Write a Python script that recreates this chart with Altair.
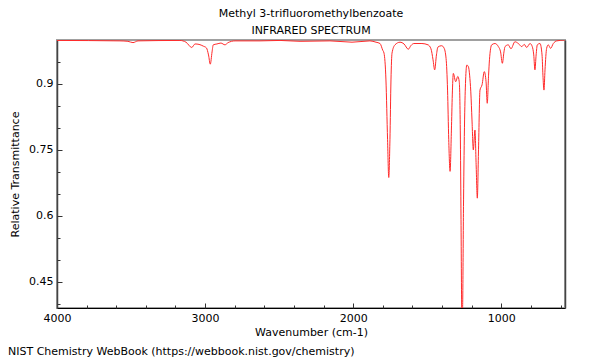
import altair as alt
import pandas as pd

wavenumber = [4000, 3575, 3521, 3487, 3453, 3170, 3129, 3090, 3068, 3041,
              3012, 2991, 2977, 2965, 2953, 2945, 2920, 2893, 2866, 2845,
              2798, 2629, 2494, 2359, 2157, 2008, 1887, 1846, 1819, 1801,
              1792, 1779, 1768, 1760, 1752, 1745, 1738, 1718, 1684, 1657,
              1628, 1610, 1590, 1536, 1495, 1475, 1461, 1450, 1438, 1428,
              1403, 1387, 1373, 1363, 1355, 1346, 1337, 1331, 1324, 1308,
              1294, 1284, 1277, 1272, 1267, 1262, 1255, 1248, 1241, 1233,
              1222, 1214, 1206, 1198, 1189, 1178, 1170, 1162, 1154, 1144,
              1130, 1115, 1103, 1095, 1086, 1080, 1065, 1043, 1020, 1005,
              993, 982, 975, 953, 935, 908, 885, 862, 845, 829,
              806, 791, 781, 773, 765, 757, 739, 725, 719, 712,
              705, 694, 683, 667, 649, 626, 570]
transmittance = [0.999, 0.998, 0.997, 0.994, 0.998, 0.999, 0.995, 0.983, 0.991, 0.990,
                 0.986, 0.982, 0.966, 0.945, 0.973, 0.989, 0.991, 0.993, 0.989, 0.994,
                 0.998, 0.998, 0.999, 0.997, 0.998, 0.995, 0.998, 0.995, 0.992, 0.977,
                 0.970, 0.909, 0.773, 0.687, 0.773, 0.909, 0.970, 0.989, 0.995, 0.991,
                 0.979, 0.9875, 0.992, 0.992, 0.989, 0.980, 0.955, 0.932, 0.966, 0.984,
                 0.987, 0.982, 0.958, 0.886, 0.773, 0.701, 0.795, 0.875, 0.924, 0.905,
                 0.917, 0.905, 0.795, 0.591, 0.386, 0.386, 0.636, 0.818, 0.909, 0.943,
                 0.939, 0.920, 0.882, 0.818, 0.750, 0.795, 0.716, 0.640, 0.750, 0.886,
                 0.898, 0.928, 0.905, 0.856, 0.920, 0.955, 0.989, 0.992, 0.985, 0.973,
                 0.947, 0.973, 0.985, 0.989, 0.980, 0.996, 0.992, 0.985, 0.990, 0.983,
                 0.992, 0.985, 0.966, 0.932, 0.966, 0.989, 0.992, 0.966, 0.920, 0.886,
                 0.932, 0.981, 0.989, 0.981, 0.992, 0.998, 1.0]

x_major = [4000, 3000, 2000, 1000]
x_minor = [3800, 3600, 3400, 3200, 2800, 2600, 2400, 2200, 1800, 1600,
           1400, 1200, 800, 600]
y_major = [0.45, 0.6, 0.75, 0.9]
y_minor = [0.4, 0.5, 0.55, 0.65, 0.7, 0.8, 0.85, 0.95]

title_lines = ["Methyl 3-trifluoromethylbenzoate", "INFRARED SPECTRUM"]
x_title = "Wavenumber (cm-1)"
y_title = "Relative Transmittance"
footer = ["NIST Chemistry WebBook (https://webbook.nist.gov/chemistry)"]

FONT = "DejaVu Sans"
W, H = 508, 268

df = pd.DataFrame({"wn": wavenumber, "T": transmittance})
xs = alt.Scale(domain=[4000, 570], nice=False, zero=False)
ys = alt.Scale(domain=[0.39, 1.0], nice=False, zero=False)

base = alt.Chart(df)

line = base.mark_line(color="#ff2a2a", strokeWidth=1, clip=True,
                      interpolate="monotone").encode(
    x=alt.X("wn:Q", scale=xs, axis=alt.Axis(
        values=x_major, labelExpr="'' + datum.value", ticks=False, tickSize=0,
        labelPadding=4, title=x_title, titlePadding=3, domainColor="#000000",
        domainWidth=1, labelFont=FONT, titleFont=FONT, labelFontSize=11,
        titleFontSize=11, titleFontWeight="normal", labelColor="#000000",
        titleColor="#000000", grid=False, labelFlush=False)),
    y=alt.Y("T:Q", scale=ys, axis=alt.Axis(
        values=y_major, labelExpr="'' + datum.value", ticks=False, tickSize=0,
        labelPadding=4, title=y_title, titlePadding=8, domainColor="#444444",
        domainWidth=1.5, labelFont=FONT, titleFont=FONT, labelFontSize=11,
        titleFontSize=11, titleFontWeight="normal", labelColor="#000000",
        titleColor="#000000", grid=False)),
)

major_ticks = base.mark_line(opacity=0).encode(
    x=alt.X("wn:Q", scale=xs, axis=alt.Axis(
        orient="top", offset=-H, values=x_major, labels=False, domain=False,
        title=None, tickSize=5, tickColor="#333333", grid=False)),
    y=alt.Y("T:Q", scale=ys, axis=alt.Axis(
        orient="right", offset=-W, values=y_major, labels=False, domain=False,
        title=None, tickSize=5, tickColor="#333333", grid=False)),
)

minor_ticks = base.mark_line(opacity=0).encode(
    x=alt.X("wn:Q", scale=xs, axis=alt.Axis(
        orient="top", offset=-H, values=x_minor, labels=False, domain=False,
        title=None, tickSize=3, tickColor="#333333", grid=False)),
    y=alt.Y("T:Q", scale=ys, axis=alt.Axis(
        orient="right", offset=-W, values=y_minor, labels=False, domain=False,
        title=None, tickSize=3, tickColor="#333333", grid=False)),
)

right_edge = base.mark_line(opacity=0).encode(
    x=alt.X("wn:Q", scale=xs, axis=None),
    y=alt.Y("T:Q", scale=ys, axis=alt.Axis(
        orient="right", labels=False, ticks=False, domain=True,
        domainColor="#444444", domainWidth=1.5, title=None, grid=False)),
)

foot = alt.Chart(pd.DataFrame({"t": footer})).mark_text(
    align="left", baseline="middle", font=FONT, fontSize=11, color="#000000"
).encode(x=alt.value(-49), y=alt.value(312), text="t:N")

chart = alt.layer(line, major_ticks, minor_ticks, right_edge, foot).resolve_axis(
    x="independent", y="independent"
).properties(
    width=W, height=H,
    title=alt.Title(title_lines, font=FONT, fontSize=11, fontWeight="normal",
                    lineHeight=17, offset=4, anchor="middle", color="#000000"),
    autosize=alt.AutoSizeParams(type="none"),
    padding={"left": 49, "top": 32, "right": 27, "bottom": 52},
).configure_view(stroke="#a0a0a0", strokeWidth=2)

chart.save("out.html", embed_options={"renderer": "svg", "actions": False})
